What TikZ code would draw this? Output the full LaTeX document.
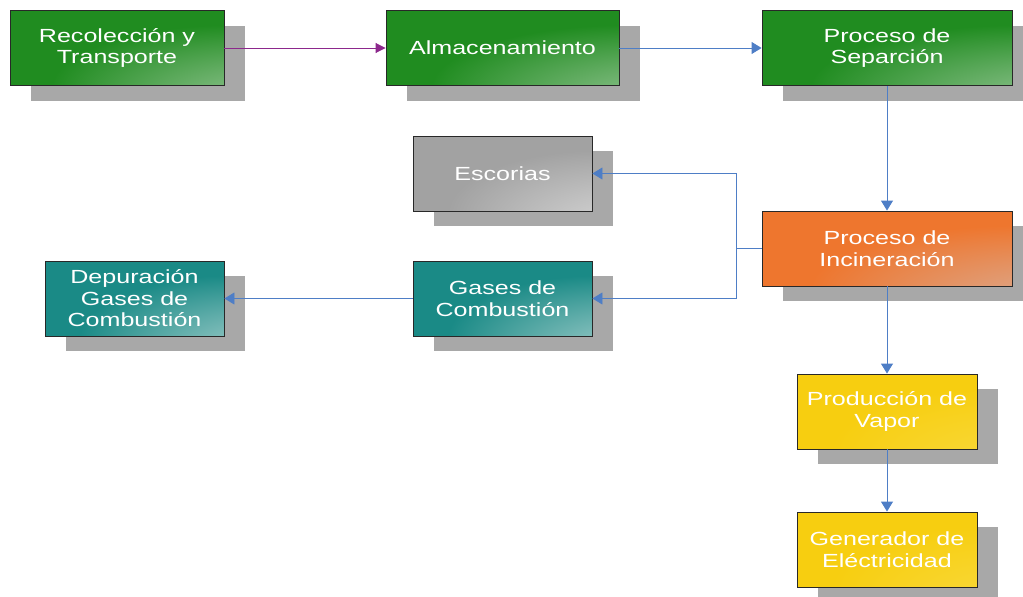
\documentclass[tikz,border=0pt]{standalone}
\usepackage{fontspec}
\setmainfont{Liberation Sans}
\newfontfamily\labelfont[FakeStretch=1.32]{Liberation Sans}
\usetikzlibrary{arrows.meta,shadows}

% box colours: base fill and the light tone of the lower-right glow
\definecolor{greenbase}{RGB}{32,140,32}
\definecolor{greenlight}{RGB}{200,222,200}
\definecolor{tealbase}{RGB}{26,138,134}
\definecolor{teallight}{RGB}{222,236,234}
\definecolor{graybase}{RGB}{162,162,162}
\definecolor{graylight}{RGB}{238,238,238}
\definecolor{orangebase}{RGB}{238,118,46}
\definecolor{orangelight}{RGB}{210,196,192}
\definecolor{yellowbase}{RGB}{247,206,16}
\definecolor{yellowlight}{RGB}{250,222,80}
\definecolor{boxline}{RGB}{40,40,40}
\definecolor{shadowgray}{RGB}{168,168,168}
\definecolor{flowblue}{RGB}{78,126,198}
\definecolor{flowpurple}{RGB}{140,40,140}

% radial glow anchored at the lower-right corner of a box
\newcommand\declareglow[3]{%
  \pgfdeclareradialshading{#1}{\pgfpoint{50bp}{-50bp}}{%
    color(0bp)=(#3); color(14bp)=(#3!65!#2); color(42bp)=(#2); color(90bp)=(#2)}}
\declareglow{glowgreen}{greenbase}{greenlight}
\declareglow{glowteal}{tealbase}{teallight}
\declareglow{glowgray}{graybase}{graylight}
\declareglow{gloworange}{orangebase}{orangelight}
\declareglow{glowyellow}{yellowbase}{yellowlight}

\tikzset{
  box/.style={draw=boxline, line width=0.9pt, inner sep=0pt,
    minimum height=75pt, align=center, text=white,
    font=\labelfont\fontsize{19}{21.5}\selectfont,
    general shadow={fill=shadowgray, shadow xshift=21pt, shadow yshift=-15pt},
    shade, shading=#1},
  flow/.style={draw=flowblue, line width=0.9pt,
    -{Triangle[length=10pt,width=12pt]}},
  flowp/.style={draw=flowpurple, line width=0.9pt, fill=flowpurple,
    -{Triangle[length=10pt,width=10pt]}},
}

\begin{document}
\begin{tikzpicture}[x=1pt,y=-1pt]
\useasboundingbox (0,0) rectangle (1023,597);

% top row
\node[box=glowgreen, minimum width=214pt] (rec) at (117,48)
  {Recolección y\\Transporte};
\node[box=glowgreen, minimum width=233pt] (alm) at (502.5,48)
  {Almacenamiento};
\node[box=glowgreen, minimum width=250pt] (sep) at (887,48)
  {Proceso de\\Separción};

% incineration and its products
\node[box=gloworange, minimum width=250pt] (inc) at (887,248.5)
  {Proceso de\\Incineración};
\node[box=glowgray, minimum width=179pt] (esc) at (502.5,173.5)
  {Escorias};
\node[box=glowteal, minimum width=179pt] (gas) at (502.5,298.5)
  {Gases de\\Combustión};
\node[box=glowteal, minimum width=179pt] (dep) at (134.5,298.5)
  {Depuración\\Gases de\\Combustión};

% energy recovery
\node[box=glowyellow, minimum width=180pt] (vap) at (887,411.5)
  {Producción de\\Vapor};
\node[box=glowyellow, minimum width=180pt] (gen) at (887,549.5)
  {Generador de\\Eléctricidad};

% connectors
\draw[flowp] (rec.east) -- (alm.west);
\draw[flow] (alm.east) -- (sep.west);
\draw[flow] (sep.south) -- (inc.north);
\coordinate (split) at (736,248.5);
\draw[flow] (inc.west) -- (split) |- (esc.east);
\draw[flow] (inc.west) -- (split) |- (gas.east);
\draw[flow] (gas.west) -- (dep.east);
\draw[flow] (inc.south) -- (vap.north);
\draw[flow] (vap.south) -- (gen.north);
\end{tikzpicture}
\end{document}
